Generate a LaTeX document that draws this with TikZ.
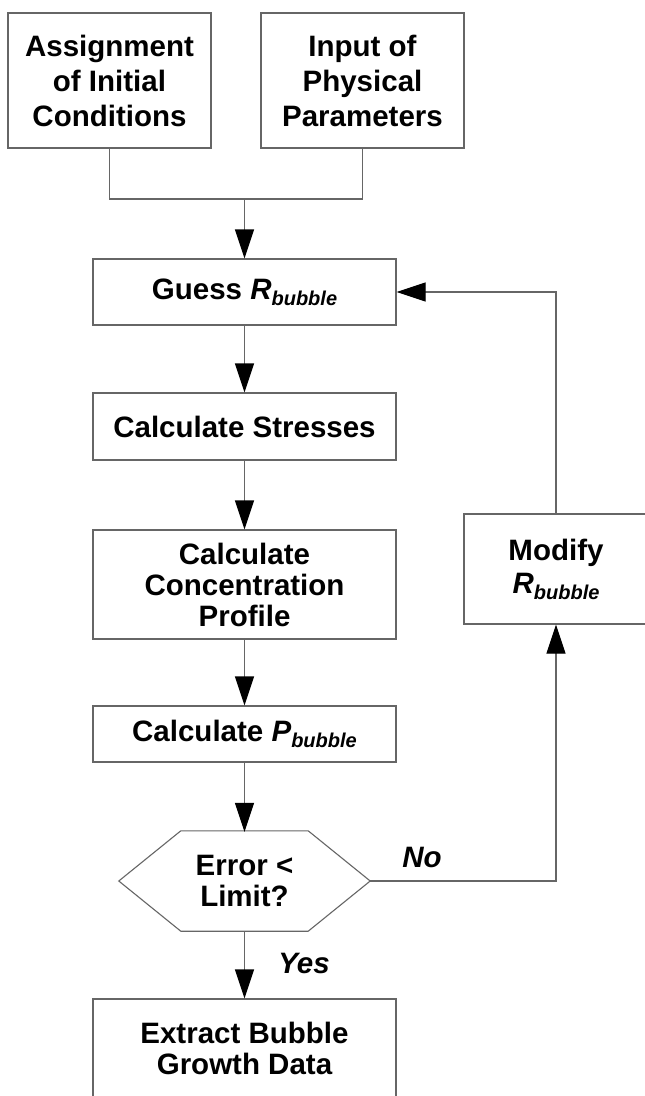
\documentclass[tikz,border=0pt]{standalone}
\usepackage{fontspec}
\setmainfont{Liberation Sans}
\usetikzlibrary{arrows.meta}

\newcommand{\bub}[1]{\textit{#1}\raisebox{-6pt}{\fontsize{20}{20}\selectfont\textit{bubble}}}

\begin{document}
\begin{tikzpicture}[x=1pt,y=-1pt]
    \tikzstyle{every node}=[font=\fontsize{29.5}{31}\selectfont\bfseries, align=center, inner sep=0pt]
    \tikzstyle{box}=[rectangle, draw=black!60, line width=1.1pt, fill=white]
    \tikzstyle{wide}=[box, minimum width=303pt]
    \tikzstyle{line}=[draw=black!60, line width=1.1pt]
    \tikzstyle{arrow}=[line, -{Triangle[length=29pt,width=19pt,color=black,fill=black]}]
    \clip (0,0) rectangle (645,1096);
    \fill[white] (0,0) rectangle (645,1096);
    % inputs
    \node[box, minimum width=203pt, minimum height=135pt, font=\fontsize{29.5}{35}\selectfont\bfseries] (init) at (109.5,80.5) {Assignment\\of Initial\\Conditions};
    \node[box, minimum width=203pt, minimum height=135pt, font=\fontsize{29.5}{35}\selectfont\bfseries] (param) at (362.5,80.5) {Input of\\Physical\\Parameters};
    \coordinate (join) at (244.5,199);
    % main loop
    \node[wide, minimum height=66pt] (guess) at (244.5,292) {Guess \bub{R}};
    \node[wide, minimum height=67pt] (stress) at (244.5,426.5) {Calculate Stresses};
    \node[wide, minimum height=109pt] (conc) at (244.5,584.5) {Calculate\\Concentration\\Profile};
    \node[wide, minimum height=56pt] (calcp) at (244.5,734) {Calculate \bub{P}};
    \node[minimum width=251pt, minimum height=100pt] (check) at (244.5,881) {Error <\\Limit?};
    \node[wide, minimum height=98pt] (extract) at (244.5,1048) {Extract Bubble\\Growth Data};
    \node[box, minimum width=184pt, minimum height=110pt, font=\fontsize{29.5}{33}\selectfont\bfseries] (modify) at (556,569) {Modify\\\bub{R}};
    % decision shape
    \draw[line] (check.west) -- ([xshift=62pt]check.north west) -- ([xshift=-62pt]check.north east)
      -- (check.east) -- ([xshift=-62pt]check.south east) -- ([xshift=62pt]check.south west) -- cycle;
    % connectors
    \draw[line] (init.south) |- (join) -| (param.south);
    \draw[arrow] (join) -- (guess.north);
    \draw[arrow] (guess) -- (stress);
    \draw[arrow] (stress) -- (conc);
    \draw[arrow] (conc) -- (calcp);
    \draw[arrow] (calcp) -- ([yshift=-1pt]check.north);
    \draw[arrow] (check.south) -- (extract.north);
    \draw[arrow] (check.east) -| (modify.south);
    \draw[arrow] (modify.north) |- (guess.east);
    \node[font=\fontsize{29.5}{31}\selectfont\bfseries\itshape] (nolbl) at (422,857) {No};
    \node[font=\fontsize{29.5}{31}\selectfont\bfseries\itshape] (yeslbl) at (304,963) {Yes};
\end{tikzpicture}
\end{document}
